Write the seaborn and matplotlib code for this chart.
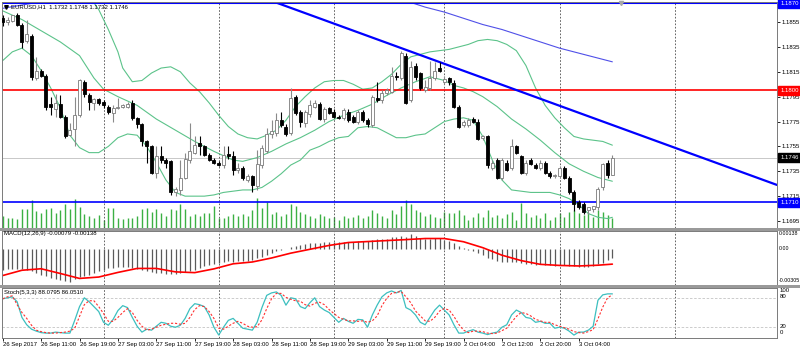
import matplotlib
matplotlib.use("Agg")
import matplotlib.pyplot as plt
from matplotlib.lines import Line2D
from matplotlib.patches import Rectangle
import numpy as np
import seaborn as sns

sns.set_theme(style="white")
plt.rcParams["font.family"] = ["Liberation Sans", "DejaVu Sans"]

# ---------------- EURUSD H1, 26 Sep 03:00 .. 3 Oct 11:00 ----------------
opens = [1.1858, 1.1855, 1.1856, 1.1861, 1.1853, 1.1840, 1.1844, 1.1810, 1.1816, 1.1812,
         1.1789, 1.1785, 1.1789, 1.1779, 1.1764, 1.1769, 1.1780, 1.1807, 1.1796, 1.1790,
         1.1793, 1.1791, 1.1787, 1.1782, 1.1786, 1.1787, 1.1787, 1.1790, 1.1778, 1.1773,
         1.1759, 1.1755, 1.1734, 1.1747, 1.1744, 1.1743, 1.1718, 1.1720, 1.1730, 1.1744,
         1.1750, 1.1758, 1.1755, 1.1748, 1.1744, 1.1742, 1.1740, 1.1749, 1.1747, 1.1736,
         1.1738, 1.1728, 1.1731, 1.1723, 1.1740, 1.1751, 1.1765, 1.1766, 1.1776, 1.1771,
         1.1766, 1.1795, 1.1783, 1.1774, 1.1781, 1.1787, 1.1789, 1.1777, 1.1786, 1.1783,
         1.1779, 1.1778, 1.1783, 1.1779, 1.1775, 1.1783, 1.1776, 1.1772, 1.1794, 1.1792,
         1.1798, 1.1799, 1.1812, 1.1810, 1.1828, 1.1792, 1.1820, 1.1814, 1.1800, 1.1802,
         1.1810, 1.1818, 1.1807, 1.1810, 1.1806, 1.1787, 1.1772, 1.1772, 1.1777, 1.1775,
         1.1762, 1.1763, 1.1738, 1.1744, 1.1730, 1.1742, 1.1738, 1.1755, 1.1747, 1.1734,
         1.1744, 1.1740, 1.1738, 1.1742, 1.1734, 1.1731, 1.1731, 1.1738, 1.1730, 1.1718,
         1.1710, 1.1709, 1.1704, 1.1705, 1.1706, 1.1722, 1.1742, 1.1732]
highs = [1.1861, 1.1859, 1.1861, 1.1862, 1.1854, 1.1857, 1.1845, 1.1827, 1.1817, 1.1813,
         1.1795, 1.1797, 1.1796, 1.1780, 1.1774, 1.1795, 1.1809, 1.1808, 1.1798, 1.1794,
         1.1794, 1.1792, 1.1788, 1.1788, 1.1794, 1.1789, 1.1791, 1.1792, 1.1779, 1.1774,
         1.1760, 1.1756, 1.1755, 1.1755, 1.1746, 1.1744, 1.1722, 1.1744, 1.1750, 1.1774,
         1.1763, 1.1763, 1.1756, 1.1750, 1.1746, 1.1743, 1.1755, 1.1755, 1.1751, 1.1742,
         1.1739, 1.1733, 1.1732, 1.1752, 1.1756, 1.1770, 1.1776, 1.1782, 1.1783, 1.1773,
         1.1802, 1.1796, 1.1784, 1.1784, 1.1792, 1.1792, 1.1791, 1.1787, 1.1787, 1.1785,
         1.1780, 1.1786, 1.1785, 1.1780, 1.1784, 1.1784, 1.1778, 1.1796, 1.1807, 1.1800,
         1.1802, 1.1819, 1.1815, 1.1832, 1.1830, 1.1824, 1.1822, 1.1815, 1.1808, 1.1824,
         1.1823, 1.1823, 1.1812, 1.1811, 1.1808, 1.1788, 1.1776, 1.1778, 1.1779, 1.1777,
         1.1764, 1.1764, 1.1744, 1.1746, 1.1746, 1.1744, 1.1761, 1.1756, 1.1748, 1.1744,
         1.1746, 1.1742, 1.1744, 1.1743, 1.1735, 1.1733, 1.1739, 1.1739, 1.1731, 1.1720,
         1.1712, 1.1710, 1.1706, 1.1707, 1.1722, 1.1742, 1.1744, 1.1748]
lows = [1.1852, 1.1853, 1.1855, 1.1852, 1.1834, 1.1838, 1.1808, 1.1808, 1.1811, 1.1784,
        1.1780, 1.1779, 1.1778, 1.1762, 1.1763, 1.1755, 1.1779, 1.1795, 1.1784, 1.1784,
        1.1788, 1.1786, 1.1781, 1.1775, 1.1785, 1.1786, 1.1786, 1.1776, 1.1770, 1.1755,
        1.1742, 1.1733, 1.1730, 1.1742, 1.1738, 1.1716, 1.1715, 1.1716, 1.1729, 1.1742,
        1.1749, 1.1748, 1.1747, 1.1743, 1.1741, 1.1739, 1.1738, 1.1745, 1.1732, 1.1734,
        1.1728, 1.1726, 1.1718, 1.1720, 1.1738, 1.1750, 1.1762, 1.1763, 1.1771, 1.1763,
        1.1764, 1.1780, 1.1771, 1.1771, 1.1779, 1.1786, 1.1776, 1.1775, 1.1781, 1.1778,
        1.1777, 1.1776, 1.1775, 1.1774, 1.1773, 1.1775, 1.1771, 1.1771, 1.1791, 1.1790,
        1.1796, 1.1798, 1.1808, 1.1808, 1.1789, 1.1791, 1.1808, 1.1800, 1.1799, 1.1800,
        1.1808, 1.1815, 1.1805, 1.1804, 1.1786, 1.1770, 1.1771, 1.1771, 1.1774, 1.1760,
        1.1760, 1.1738, 1.1736, 1.1729, 1.1728, 1.1735, 1.1736, 1.1749, 1.1733, 1.1732,
        1.1740, 1.1737, 1.1736, 1.1733, 1.1730, 1.1730, 1.1730, 1.1729, 1.1717, 1.1703,
        1.1705, 1.1701, 1.1701, 1.1702, 1.1704, 1.1720, 1.1730, 1.1732]
closes = [1.1855, 1.1857, 1.1861, 1.1853, 1.1839, 1.1845, 1.1811, 1.1816, 1.1812, 1.1787,
          1.1787, 1.1790, 1.1779, 1.1763, 1.1768, 1.1780, 1.1808, 1.1797, 1.1791, 1.1793,
          1.1790, 1.1788, 1.1783, 1.1786, 1.1787, 1.1788, 1.1789, 1.1778, 1.1773, 1.1759,
          1.1755, 1.1734, 1.1747, 1.1744, 1.1742, 1.1718, 1.1721, 1.1730, 1.1745, 1.1751,
          1.1756, 1.1755, 1.1748, 1.1744, 1.1742, 1.1740, 1.1748, 1.1747, 1.1736, 1.1738,
          1.1730, 1.1731, 1.1724, 1.1741, 1.1754, 1.1765, 1.1767, 1.1776, 1.1772, 1.1765,
          1.1794, 1.1782, 1.1775, 1.1783, 1.1788, 1.1790, 1.1777, 1.1785, 1.1782, 1.1779,
          1.1778, 1.1784, 1.1776, 1.1775, 1.1783, 1.1776, 1.1773, 1.1795, 1.1792, 1.1798,
          1.1800, 1.1812, 1.1811, 1.1830, 1.1790, 1.1819, 1.1811, 1.1802, 1.1803, 1.1810,
          1.1816, 1.1816, 1.1809, 1.1807, 1.1787, 1.1771, 1.1775, 1.1776, 1.1775, 1.1761,
          1.1763, 1.1740, 1.1742, 1.1730, 1.1744, 1.1736, 1.1755, 1.1750, 1.1734, 1.1742,
          1.1741, 1.1738, 1.1742, 1.1734, 1.1731, 1.1732, 1.1738, 1.1730, 1.1718, 1.1709,
          1.1706, 1.1702, 1.1706, 1.1707, 1.1721, 1.1741, 1.1732, 1.1746]
tick_volume = [1200, 1000, 1000, 900, 1900, 1900, 2800, 1700, 1500, 1900,
               2000, 1500, 1800, 2400, 1900, 2900, 2100, 1400, 1200, 1000,
               1300, 800, 2000, 2000, 1000, 900, 1000, 1000, 1200, 1900,
               2000, 1600, 1900, 1500, 1200, 1900, 1800, 2400, 1900, 1200,
               1400, 1200, 1500, 1500, 2200, 1000, 1000, 1200, 1400, 1200,
               1400, 1200, 1800, 3000, 2000, 2600, 1400, 1600, 1200, 1400,
               2400, 2200, 1600, 1400, 1200, 1000, 1400, 1200, 1000, 1100,
               800, 1200, 1000, 1100, 1300, 1000, 1200, 1800, 1500, 1200,
               1000, 1800, 1400, 2200, 2800, 2400, 1800, 1600, 1200, 1400,
               1100, 1000, 1600, 1500, 1500, 1800, 1300, 800, 1100, 1500,
               1100, 1800, 1100, 1300, 1000, 1400, 1600, 800, 2500, 1500,
               1100, 1300, 1000, 1500, 800, 1100, 1500, 1100, 1600, 1800,
               1500, 1300, 1500, 1100, 1800, 1600, 1300, 1000]

# Bollinger Bands (20, 2)
bb_upper_bars = [18, 20, 22, 24, 25, 27, 29, 31, 33, 35, 37, 39, 41, 43, 45, 47, 49, 51, 53, 55,
                 57, 59, 61, 63, 65, 67, 69, 71, 73, 75, 77, 79, 81, 83, 85, 87, 89, 91, 93, 95,
                 97, 99, 101, 103, 105, 107, 109, 111, 113, 115, 117, 119, 121, 123, 125, 127]
bb_upper = [1.1876, 1.1865, 1.1849, 1.1831, 1.1818, 1.1807, 1.1808, 1.1814, 1.1818, 1.1819,
            1.1815, 1.1806, 1.1799, 1.1790, 1.1780, 1.1771, 1.1765, 1.1762, 1.1761, 1.1764,
            1.1768, 1.1776, 1.1787, 1.1795, 1.1802, 1.1807, 1.1808, 1.1808, 1.1805, 1.1801,
            1.1802, 1.1807, 1.1813, 1.1821, 1.1827, 1.1829, 1.1831, 1.1832, 1.1833, 1.1835,
            1.1837, 1.1840, 1.1841, 1.1840, 1.1837, 1.1832, 1.1820, 1.1802, 1.1788, 1.1778,
            1.1770, 1.1763, 1.1761, 1.1760, 1.1759, 1.1756]
bb_middle_bars = [0, 4, 8, 12, 16, 19, 21, 24, 28, 32, 36, 40, 44, 48, 50, 53, 56, 59, 62, 65,
                  68, 71, 74, 77, 80, 83, 86, 89, 92, 94, 96, 98, 100, 103, 106, 109, 112, 115,
                  118, 121, 124, 127]
bb_middle = [1.1864, 1.1857, 1.1848, 1.1839, 1.1828, 1.1810, 1.1801, 1.1795, 1.1788, 1.1777,
             1.1768, 1.1759, 1.1751, 1.1744, 1.1743, 1.1746, 1.1751, 1.1757, 1.1762, 1.1768,
             1.1775, 1.1780, 1.1784, 1.1789, 1.1796, 1.1802, 1.1807, 1.1811, 1.1808, 1.1804,
             1.1802, 1.1799, 1.1795, 1.1787, 1.1777, 1.1769, 1.1760, 1.1750, 1.1741, 1.1735,
             1.1730, 1.1727]
bb_lower_bars = list(range(0, 127, 2)) + [127]
bb_lower = [1.1824, 1.1831, 1.1834, 1.1828, 1.1816, 1.1802, 1.1786, 1.1764, 1.1754, 1.1750,
            1.1750, 1.1755, 1.1762, 1.1765, 1.1764, 1.1755, 1.1742, 1.1728, 1.1718, 1.1715,
            1.1715, 1.1715, 1.1716, 1.1718, 1.1719, 1.1720, 1.1720, 1.1722, 1.1727, 1.1733,
            1.1740, 1.1744, 1.1752, 1.1755, 1.1759, 1.1762, 1.1763, 1.1770, 1.1771, 1.1770,
            1.1766, 1.1762, 1.1762, 1.1764, 1.1765, 1.1770, 1.1775, 1.1777, 1.1778, 1.1776,
            1.1763, 1.1744, 1.1728, 1.1720, 1.1719, 1.1718, 1.1718, 1.1718, 1.1716, 1.1713,
            1.1708, 1.1701, 1.1698, 1.1697, 1.1698]

# long moving average (visible parts only)
ma_left_bars = [0, 3, 6, 9, 10]
ma_left = [1.1866, 1.1868, 1.1870, 1.1872, 1.1874]
ma_right_bars = [82, 84, 88, 92, 96, 100, 104, 108, 112, 116, 120, 124, 127]
ma_right = [1.1875, 1.1872, 1.1867, 1.1863, 1.1858, 1.1853, 1.1849, 1.1844, 1.1839, 1.1834,
            1.1830, 1.1826, 1.1823]

# drawn objects
trend_points = [(56, 1.1872), (93, 1.1820)]
level_lines = [1.1870, 1.1800, 1.1710]
last_price = 1.1746

# MACD (12,26,9)
macd_main = [-0.00190, -0.00186, -0.00182, -0.00182, -0.00185, -0.00195, -0.00205, -0.00220,
             -0.00235, -0.00250, -0.00265, -0.00275, -0.00285, -0.00295, -0.00305, -0.00280,
             -0.00258, -0.00245, -0.00235, -0.00220, -0.00205, -0.00190, -0.00178, -0.00172,
             -0.00168, -0.00165, -0.00165, -0.00170, -0.00180, -0.00190, -0.00200, -0.00210,
             -0.00218, -0.00222, -0.00228, -0.00232, -0.00228, -0.00220, -0.00212, -0.00200,
             -0.00190, -0.00175, -0.00160, -0.00148, -0.00135, -0.00125, -0.00115, -0.00112,
             -0.00115, -0.00112, -0.00112, -0.00108, -0.00100, -0.00085, -0.00068, -0.00050,
             -0.00030, -0.00015, -0.00005, 0.00005, 0.00020, 0.00030, 0.00036, 0.00045,
             0.00055, 0.00060, 0.00060, 0.00064, 0.00066, 0.00068, 0.00068, 0.00072,
             0.00072, 0.00072, 0.00076, 0.00076, 0.00076, 0.00088, 0.00092, 0.00096,
             0.00100, 0.00110, 0.00112, 0.00125, 0.00118, 0.00138, 0.00120, 0.00108,
             0.00100, 0.00100, 0.00102, 0.00102, 0.00090, 0.00080, 0.00058, 0.00030,
             0.00010, -0.00005, -0.00015, -0.00035, -0.00050, -0.00078, -0.00092, -0.00110,
             -0.00115, -0.00122, -0.00118, -0.00115, -0.00130, -0.00135, -0.00138, -0.00142,
             -0.00140, -0.00145, -0.00150, -0.00152, -0.00150, -0.00150, -0.00155, -0.00160,
             -0.00162, -0.00168, -0.00168, -0.00160, -0.00135, -0.00125, -0.00100, -0.00079]
macd_signal_bars = [0, 4, 8, 12, 16, 20, 24, 28, 32, 36, 40, 44, 48, 52, 56, 60, 64, 68, 72,
                    76, 80, 84, 88, 92, 96, 100, 104, 108, 112, 116, 120, 124, 127]
macd_signal = [-0.00244, -0.00195, -0.00181, -0.00225, -0.00271, -0.00258, -0.00215, -0.00178,
               -0.00178, -0.00210, -0.00217, -0.00182, -0.00135, -0.00118, -0.00081, -0.00036,
               0.00000, 0.00036, 0.00063, 0.00072, 0.00081, 0.00090, 0.00100, 0.00100,
               0.00070, 0.00015, -0.00055, -0.00105, -0.00140, -0.00150, -0.00155, -0.00148,
               -0.00138]

# Stochastic (5,3,3)
stoch_k = [78, 80, 82, 72, 40, 25, 16, 12, 9, 8, 8, 10, 9, 8, 8, 34, 62, 80, 72, 62,
           52, 30, 24, 36, 54, 64, 60, 40, 22, 10, 16, 14, 22, 30, 28, 22, 20, 24, 38, 58,
           68, 66, 62, 45, 20, 4, 20, 34, 38, 28, 18, 16,
           14, 30, 60, 85, 90, 92, 85, 65, 80, 78, 62, 58, 70, 80, 62, 55, 50, 40, 30, 38,
           32, 28, 36, 35, 20, 45, 65, 82, 90, 94, 90, 95, 60, 55, 45, 30, 25, 40, 55, 65,
           55, 45, 25, 8, 8, 12, 15, 10, 8, 5, 8, 10, 20, 25, 45, 55, 50, 40, 38, 30,
           32, 28, 28, 18, 20, 18, 12, 4, 10, 10, 14, 22, 75, 86, 88, 88.0795]
stoch_d = [78, 82, 84, 66, 50, 38, 24, 14, 11, 9, 8, 8, 9, 10, 12, 18, 42, 66, 74, 74,
           62, 48, 32, 32, 40, 50, 58, 50, 34, 22, 14, 16, 20, 24, 26, 28, 28, 26, 28, 40,
           56, 64, 62, 52, 38, 18, 16, 22, 28, 32, 28, 22,
           20, 21, 35, 58, 78, 89, 89, 81, 77, 74, 73, 66, 63, 69, 71, 66, 56, 48, 40, 36,
           33, 33, 32, 33, 30, 33, 43, 64, 79, 89, 91, 93, 82, 70, 53, 43, 33, 32, 40, 53,
           58, 55, 42, 26, 14, 9, 12, 12, 11, 8, 7, 8, 13, 18, 30, 42, 50, 48, 43, 36,
           33, 30, 30, 25, 22, 19, 16, 11, 9, 8, 11, 15, 37, 61, 80, 86.0510]

price_ticks = [1.1695, 1.1715, 1.1735, 1.1755, 1.1775, 1.1795, 1.1815, 1.1835, 1.1855]
time_label_bars = [0, 8, 16, 24, 32, 40, 48, 56, 64, 72, 80, 88, 96, 104, 112, 120]
time_labels = ["26 Sep 2017", "26 Sep 11:00", "26 Sep 19:00", "27 Sep 03:00", "27 Sep 11:00",
               "27 Sep 19:00", "28 Sep 03:00", "28 Sep 11:00", "28 Sep 19:00", "29 Sep 03:00",
               "29 Sep 11:00", "29 Sep 19:00", "2 Oct 04:00", "2 Oct 12:00", "2 Oct 20:00",
               "3 Oct 04:00"]
day_break_bars = [21, 45, 69, 92, 116, 140]

# ---------------- layout ----------------
W, H = 800, 350
FS = 4.3
fig = plt.figure(figsize=(W / 100, H / 100), dpi=100)
fig.patch.set_facecolor("white")


def px_box(x0, y0, x1, y1):
    return [x0 / W, 1 - y1 / H, (x1 - x0) / W, (y1 - y0) / H]


def fx(x):
    return x / W


def fy(y):
    return 1 - y / H


XMIN, XMAX = -0.15, 161.3
bars = np.arange(len(closes))

ax_vol = fig.add_axes(px_box(2, 2, 777, 228))
ax = fig.add_axes(px_box(2, 2, 777, 228))
ax_macd = fig.add_axes(px_box(2, 231, 777, 285))
ax_st = fig.add_axes(px_box(2, 288, 777, 338))

for a in (ax_vol, ax, ax_macd, ax_st):
    a.set_xlim(XMIN, XMAX)
    for sp in a.spines.values():
        sp.set_color("#7a7a7a")
        sp.set_linewidth(0.7)

# volumes in the bottom of the price window
ax_vol.vlines(bars, 0, tick_volume, color="#3cb043", lw=1.0)
ax_vol.set_ylim(0, 22600)
ax_vol.axis("off")
ax.patch.set_alpha(0)

# price window
ax.set_ylim(1.16894, 1.18711)
band_color = "#5cc38a"
sns.lineplot(x=bb_upper_bars, y=bb_upper, ax=ax, color=band_color, lw=0.8)
sns.lineplot(x=bb_middle_bars, y=bb_middle, ax=ax, color=band_color, lw=0.8)
sns.lineplot(x=bb_lower_bars, y=bb_lower, ax=ax, color=band_color, lw=0.8)
sns.lineplot(x=ma_left_bars, y=ma_left, ax=ax, color="#5050e8", lw=0.8)
sns.lineplot(x=ma_right_bars, y=ma_right, ax=ax, color="#5050e8", lw=0.8)

ax.axhline(last_price, color="#c8c8c8", lw=0.7, zorder=1)
ax.axhline(level_lines[0], color="#0000ff", lw=1.5, zorder=2)
ax.axhline(level_lines[1], color="#ff0000", lw=1.2, zorder=2)
ax.axhline(level_lines[2], color="#0000ff", lw=1.2, zorder=2)
ax.axline(trend_points[0], trend_points[1], color="#0000ff", lw=1.6, zorder=2)

o = np.array(opens)
h = np.array(highs)
l = np.array(lows)
c = np.array(closes)
up = c >= o
body_lo = np.minimum(o, c)
body_h = np.maximum(np.abs(c - o), 0.000025)
ax.vlines(bars[up], l[up], h[up], color="#8a8a8a", lw=0.8, zorder=3)
ax.vlines(bars[~up], l[~up], h[~up], color="black", lw=0.8, zorder=3)
ax.bar(bars[up], body_h[up], bottom=body_lo[up], width=0.62, color="white",
       edgecolor="#7a7a7a", linewidth=0.6, zorder=4)
ax.bar(bars[~up], body_h[~up], bottom=body_lo[~up], width=0.62, color="black",
       edgecolor="black", linewidth=0.6, zorder=4)

ax.yaxis.tick_right()
ax.set_yticks(price_ticks)
ax.set_yticklabels([f"{v:.4f}" for v in price_ticks])
ax.tick_params(axis="y", right=True, left=False, length=2, width=0.6, pad=1.5,
               labelsize=FS, colors="black")
ax.set_xticks([])
ax.set_xlabel("")
ax.set_ylabel("")

for price, bg in [(level_lines[0], "#0000ff"), (level_lines[1], "#ff0000"),
                  (last_price, "#000000"), (level_lines[2], "#0000ff")]:
    ax.annotate(f"{price:.4f}", xy=(1, price), xycoords=("axes fraction", "data"),
                xytext=(2.2, 0), textcoords="offset points", ha="left", va="center",
                fontsize=FS, color="white", annotation_clip=False, zorder=6,
                bbox=dict(boxstyle="square,pad=0.3", fc=bg, ec=bg))

# MACD window
ax_macd.set_ylim(-0.00332, 0.00170)
ax_macd.vlines(bars, 0, macd_main, color="#5a5a5a", lw=0.9)
sns.lineplot(x=macd_signal_bars, y=macd_signal, ax=ax_macd, color="#ff0000", lw=1.2)
ax_macd.set_xticks([])
ax_macd.set_yticks([])
ax_macd.set_xlabel("")
ax_macd.set_ylabel("")

# Stochastic window
ax_st.set_ylim(-2, 100)
for lvl in (20, 80):
    ax_st.axhline(lvl, color="#c4c4c4", lw=0.6, ls=(0, (3, 2)))
sns.lineplot(x=bars, y=stoch_k, ax=ax_st, color="#3cbfbf", lw=0.9)
sns.lineplot(x=bars, y=stoch_d, ax=ax_st, color="#ff3030", lw=0.8, linestyle=(0, (2, 1.6)))
ax_st.set_yticks([])
ax_st.set_xticks(time_label_bars)
ax_st.set_xticklabels(time_labels, fontsize=FS, ha="left")
ax_st.tick_params(axis="x", bottom=True, length=2, width=0.6, pad=1, colors="black")
ax_st.set_xlabel("")
ax_st.set_ylabel("")

# day separators
for a in (ax, ax_macd, ax_st):
    for b in day_break_bars:
        a.axvline(b, color="#4a4a4a", lw=0.6, ls=(0, (2, 2)), zorder=1)

# window separators
for y0 in (228, 285):
    fig.add_artist(Rectangle((0, fy(y0 + 3)), 1, 3 / H, transform=fig.transFigure,
                             color="#9a9a9a", lw=0))

# captions
fig.add_artist(Line2D([fx(5.5)], [fy(6.5)], marker="v", color="black", markersize=2.6,
                      transform=fig.transFigure))
fig.text(fx(11), fy(6.5), "EURUSD,H1  1.1732 1.1748 1.1732 1.1746", fontsize=FS,
         va="center", ha="left", color="black")
fig.add_artist(Line2D([fx(621)], [fy(2.5)], marker="v", color="#a8a8a8", markersize=3,
                      transform=fig.transFigure))
fig.text(fx(4), fy(234), "MACD(12,26,9) -0.00079 -0.00138", fontsize=FS, va="center",
         ha="left", color="black")
fig.text(fx(4), fy(292.5), "Stoch(5,3,3) 88.0795 86.0510", fontsize=FS, va="center",
         ha="left", color="black")

# right-hand scale texts of the indicator windows
for txt, yy in [("0.00138", 233.5), ("0.00", 248), ("-0.00305", 281)]:
    fig.text(fx(779), fy(yy), txt, fontsize=3.8, va="center", ha="left", color="black")
for txt, yy in [("100", 291), ("80", 297), ("20", 327), ("0", 333)]:
    fig.text(fx(780), fy(yy), txt, fontsize=FS, va="center", ha="left", color="black")

fig.savefig("out.png", dpi=100, facecolor="white")
